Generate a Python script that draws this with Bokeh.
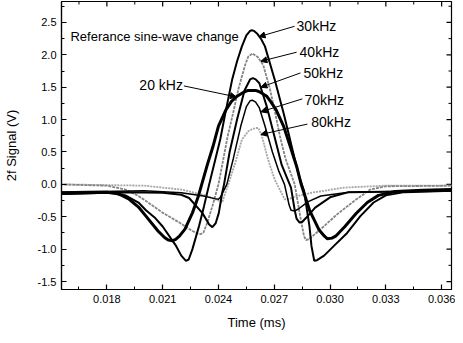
import math
from bokeh.plotting import figure
from bokeh.models import Range1d, FixedTicker, PrintfTickFormatter, Arrow, NormalHead, Label
from bokeh.embed import file_html
from bokeh.resources import INLINE

# ---- data (time in ms, 2f signal in V) ----
t20 = [0.0155, 0.0170, 0.0180, 0.0185, 0.0188, 0.0192, 0.0197, 0.0201, 0.02075, 0.0211,
       0.0213, 0.02154, 0.0217, 0.0219, 0.0222, 0.0226, 0.0229, 0.0231, 0.0234, 0.0237,
       0.0240, 0.0244, 0.0247, 0.0250, 0.0254, 0.0256, 0.0258, 0.0260, 0.0262, 0.0266,
       0.0268, 0.0271, 0.0275, 0.0279, 0.0282, 0.02845, 0.0289, 0.0294, 0.0297, 0.02986,
       0.0301, 0.0303, 0.0308, 0.0314, 0.0320, 0.0326, 0.0335, 0.0350, 0.0366]
v20 = [-0.13, -0.12, -0.12, -0.14, -0.17, -0.23, -0.35, -0.49, -0.72, -0.82,
       -0.86, -0.87, -0.85, -0.80, -0.69, -0.44, -0.20, 0.00, 0.30, 0.58,
       0.90, 1.15, 1.28, 1.36, 1.43, 1.45, 1.45, 1.45, 1.43, 1.36,
       1.28, 1.15, 0.90, 0.55, 0.28, 0.00, -0.40, -0.70, -0.80, -0.84,
       -0.83, -0.80, -0.65, -0.45, -0.28, -0.17, -0.11, -0.09, -0.08]

t30 = [0.0155, 0.0180, 0.0186, 0.0190, 0.0197, 0.0201, 0.0206, 0.0210, 0.02172, 0.0220,
       0.02225, 0.0224, 0.0226, 0.02296, 0.02322, 0.0235, 0.0238, 0.0241, 0.02437, 0.02473,
       0.0250, 0.02526, 0.0255, 0.0257, 0.02579, 0.0259, 0.0261, 0.0263, 0.0265, 0.02703,
       0.0275, 0.0278, 0.02809, 0.02836, 0.0286, 0.02889, 0.0290, 0.02915, 0.0293, 0.02968,
       0.03021, 0.03092, 0.03163, 0.03234, 0.0330, 0.0340, 0.0366]
v30 = [-0.15, -0.13, -0.14, -0.17, -0.28, -0.40, -0.52, -0.65, -0.95, -1.10,
       -1.18, -1.16, -1.00, -0.64, -0.34, 0.00, 0.35, 0.70, 1.10, 1.61,
       1.90, 2.13, 2.30, 2.37, 2.38, 2.37, 2.32, 2.24, 2.13, 1.61,
       1.10, 0.75, 0.40, 0.10, -0.10, -0.64, -0.95, -1.18, -1.17, -1.10,
       -0.95, -0.75, -0.49, -0.28, -0.17, -0.12, -0.10]

t40 = [0.0155, 0.0180, 0.0190, 0.0197, 0.02012, 0.02101, 0.0219, 0.0226, 0.0229, 0.02305,
       0.0232, 0.0234, 0.02367, 0.0240, 0.0242, 0.0245, 0.02481, 0.02508, 0.02543, 0.0256,
       0.02582, 0.0261, 0.02641, 0.02676, 0.02703, 0.0273, 0.0276, 0.0281, 0.0284, 0.0286,
       0.02871, 0.0289, 0.0295, 0.03039, 0.03128, 0.03216, 0.0330, 0.0366]
v40 = [0.00, -0.02, -0.08, -0.18, -0.26, -0.44, -0.59, -0.72, -0.76, -0.77,
       -0.74, -0.59, -0.34, 0.00, 0.30, 0.75, 1.13, 1.48, 1.84, 1.97,
       2.02, 1.97, 1.84, 1.48, 1.13, 0.75, 0.40, 0.00, -0.50, -0.80,
       -0.86, -0.84, -0.69, -0.46, -0.26, -0.08, -0.03, -0.02]

t50 = [0.0155, 0.0190, 0.0210, 0.0220, 0.02242, 0.02313, 0.0235, 0.02367, 0.02385, 0.02402,
       0.0242, 0.0243, 0.0246, 0.0250, 0.0254, 0.0257, 0.02585, 0.0260, 0.0262, 0.0266,
       0.0270, 0.0274, 0.0279, 0.0281, 0.0282, 0.02836, 0.0285, 0.0287, 0.0292, 0.0300,
       0.0310, 0.0366]
v50 = [-0.15, -0.12, -0.13, -0.16, -0.21, -0.44, -0.62, -0.66, -0.60, -0.44,
       -0.13, 0.00, 0.50, 1.00, 1.45, 1.62, 1.64, 1.62, 1.56, 1.20,
       0.75, 0.30, -0.05, -0.40, -0.53, -0.59, -0.58, -0.52, -0.36, -0.20,
       -0.12, -0.10]

t70 = [0.0155, 0.0200, 0.0220, 0.0232, 0.0238, 0.0240, 0.0241, 0.02445, 0.0248, 0.0252,
       0.0255, 0.0257, 0.02582, 0.0260, 0.0262, 0.0265, 0.0269, 0.02725, 0.02755, 0.0278,
       0.0279, 0.0281, 0.0283, 0.0288, 0.0295, 0.0310, 0.0366]
v70 = [-0.12, -0.10, -0.13, -0.18, -0.22, -0.23, -0.20, 0.00, 0.40, 0.90,
       1.20, 1.29, 1.30, 1.27, 1.18, 0.90, 0.50, 0.20, 0.00, -0.32,
       -0.40, -0.41, -0.38, -0.27, -0.18, -0.12, -0.10]

t80 = [0.0155, 0.0200, 0.0220, 0.0233, 0.0240, 0.0242, 0.02437, 0.02455, 0.0249, 0.02526,
       0.0256, 0.0258, 0.0260, 0.02614, 0.02632, 0.02667, 0.02703, 0.02738, 0.02756, 0.0278,
       0.0280, 0.02898, 0.03075, 0.0330, 0.0366]
v80 = [0.00, -0.02, -0.08, -0.17, -0.25, -0.28, -0.13, 0.02, 0.33, 0.69,
       0.82, 0.85, 0.87, 0.87, 0.76, 0.38, 0.07, -0.13, -0.23, -0.23,
       -0.20, -0.13, -0.05, -0.02, -0.02]

x_lo, x_hi = 0.01556, 0.03653
y_lo, y_hi = -1.623, 2.823
x_ticks = [0.018, 0.021, 0.024, 0.027, 0.030, 0.033, 0.036]
x_minor = [0.0165, 0.0195, 0.0225, 0.0255, 0.0285, 0.0315, 0.0345]
y_ticks = [-1.5, -1.0, -0.5, 0.0, 0.5, 1.0, 1.5, 2.0, 2.5]
y_minor = [-1.25, -0.75, -0.25, 0.25, 0.75, 1.25, 1.75, 2.25, 2.75]

# labels: text, text position (x, y), arrow start, arrow end
series_labels = ["30kHz", "40kHz", "50kHz", "70kHz", "80kHz", "20 kHz"]
label_x = [0.02820, 0.02836, 0.02857, 0.02862, 0.02899, 0.02209]
label_y = [2.44, 2.04, 1.72, 1.30, 0.96, 1.53]
label_align = ["left", "left", "left", "left", "left", "right"]
arrow_x0 = [0.02809, 0.02820, 0.02841, 0.02851, 0.02878, 0.02214]
arrow_y0 = [2.44, 2.04, 1.72, 1.32, 0.93, 1.52]
arrow_x1 = [0.02618, 0.02628, 0.02628, 0.02628, 0.02628, 0.02496]
arrow_y1 = [2.28, 1.90, 1.50, 1.12, 0.77, 1.35]
note_text = "Referance sine-wave change"
note_x, note_y = 0.01604, 2.28

FONT = "Liberation Sans"

p = figure(width=455, height=335, output_backend="svg", toolbar_location=None,
           x_range=Range1d(x_lo, x_hi), y_range=Range1d(y_lo, y_hi),
           min_border_left=56, min_border_right=4, min_border_top=1, min_border_bottom=46)
p.grid.visible = False
p.outline_line_color = "black"
p.outline_line_width = 1.2
p.background_fill_color = "white"
p.border_fill_color = "white"

def style_axis(ax, ticks, minor, fmt):
    ax.ticker = FixedTicker(ticks=ticks, minor_ticks=minor)
    ax.formatter = PrintfTickFormatter(format=fmt)
    ax.major_tick_in = 5
    ax.major_tick_out = 0
    ax.minor_tick_in = 3
    ax.minor_tick_out = 0
    ax.major_tick_line_color = "black"
    ax.minor_tick_line_color = "black"
    ax.major_tick_line_width = 1.2
    ax.axis_line_color = "black"
    ax.axis_line_width = 1.2
    ax.major_label_text_font = FONT
    ax.major_label_text_color = "black"
    ax.major_label_text_font_size = "11px"
    ax.major_label_standoff = 5
    ax.axis_label_text_font = FONT
    ax.axis_label_text_font_size = "13px"
    ax.axis_label_text_font_style = "normal"
    ax.axis_label_text_color = "black"

style_axis(p.xaxis[0], x_ticks, x_minor, "%.3f")
style_axis(p.yaxis[0], y_ticks, y_minor, "%.1f")
p.xaxis[0].axis_label = "Time (ms)"
p.yaxis[0].axis_label = "2f Signal (V)"
p.xaxis[0].axis_label_standoff = 9
p.yaxis[0].axis_label_standoff = 16

# mirrored inward ticks on top and right edges of the frame
p.ray(x=x_ticks, y=[y_hi] * len(x_ticks), length=5, length_units="screen",
      angle=-math.pi / 2, line_color="black", line_width=1.2)
p.ray(x=x_minor, y=[y_hi] * len(x_minor), length=3, length_units="screen",
      angle=-math.pi / 2, line_color="black", line_width=1)
p.ray(x=[x_hi] * len(y_ticks), y=y_ticks, length=5, length_units="screen",
      angle=math.pi, line_color="black", line_width=1.2)
p.ray(x=[x_hi] * len(y_minor), y=y_minor, length=3, length_units="screen",
      angle=math.pi, line_color="black", line_width=1)

# curves
p.line(t80, v80, line_color="#a6a6a6", line_width=1.8, line_dash="2 1")
p.line(t40, v40, line_color="#858585", line_width=1.8, line_dash="3 1")
p.line(t70, v70, line_color="black", line_width=1.5)
p.line(t50, v50, line_color="black", line_width=2.0)
p.line(t30, v30, line_color="black", line_width=2.0)
p.line(t20, v20, line_color="black", line_width=3.0)

# annotations
for i in range(len(series_labels)):
    p.add_layout(Arrow(x_start=arrow_x0[i], y_start=arrow_y0[i],
                       x_end=arrow_x1[i], y_end=arrow_y1[i],
                       line_color="black", line_width=1,
                       end=NormalHead(size=6, fill_color="black", line_color="black")))
    p.add_layout(Label(x=label_x[i], y=label_y[i], text=series_labels[i],
                       text_font=FONT, text_font_size="14px", text_color="black",
                       text_align=label_align[i], text_baseline="middle"))

p.add_layout(Label(x=note_x, y=note_y, text=note_text, text_font=FONT,
                   text_font_size="13px", text_color="black",
                   text_align="left", text_baseline="middle"))

open("out.html", "w").write(file_html(p, INLINE))
